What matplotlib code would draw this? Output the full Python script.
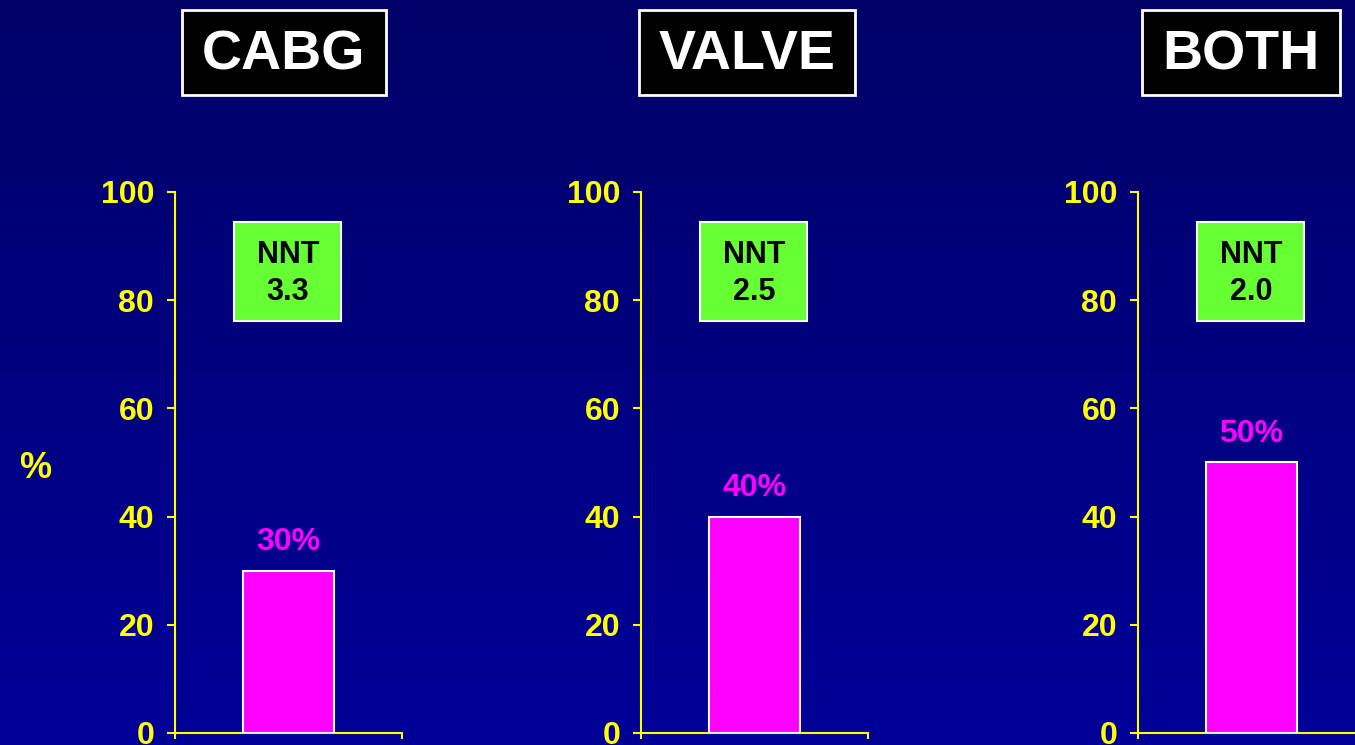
import matplotlib
matplotlib.use("Agg")
import matplotlib.pyplot as plt
import numpy as np
from matplotlib.patches import Rectangle

categories = ["CABG", "VALVE", "BOTH"]
values = [30, 40, 50]
nnt = [3.3, 2.5, 2.0]
yticks = [0, 20, 40, 60, 80, 100]

YELLOW = "#FFFF00"
MAGENTA = "#FF00FF"
GREEN = "#66FF33"

plt.rcParams["font.family"] = ["Liberation Sans", "DejaVu Sans"]
plt.rcParams["font.weight"] = "bold"

W, H = 1355, 745
fig = plt.figure(figsize=(W / 100, H / 100), dpi=100)

# background gradient
bg = fig.add_axes([0, 0, 1, 1], zorder=-10)
grad = np.linspace(0, 1, 256).reshape(-1, 1)
top = np.array([0, 0, 0x68]) / 255
bot = np.array([0, 0, 0x98]) / 255
img = top + (bot - top) * grad[:, :, None]
bg.imshow(img, aspect="auto", extent=[0, 1, 0, 1], origin="upper")
bg.axis("off")

axes_left = [175, 641, 1138]
title_x = [284, 747, 1241]
ax_w = 227 / W
ax_b = (H - 733) / H
ax_h = 541 / H

for i, cat in enumerate(categories):
    ax = fig.add_axes([axes_left[i] / W, ax_b, ax_w, ax_h])
    ax.patch.set_alpha(0)
    ax.bar([0], [values[i]], width=0.4, color=MAGENTA, edgecolor="white",
           linewidth=1.5, zorder=3)
    ax.set_xlim(-0.5, 0.5)
    ax.set_ylim(0, 100)
    ax.set_yticks(yticks)
    ax.set_xticks([-0.5, 0.5])
    ax.set_xticklabels([])
    for s in ["top", "right"]:
        ax.spines[s].set_visible(False)
    for s in ["left", "bottom"]:
        ax.spines[s].set_color(YELLOW)
        ax.spines[s].set_linewidth(1.5)
    ax.tick_params(axis="y", colors=YELLOW, length=6, width=1.5, pad=9,
                   labelsize=23)
    ax.tick_params(axis="x", colors=YELLOW, length=4, width=1.5)
    for lab in ax.get_yticklabels():
        lab.set_fontweight("bold")

    ax.text(0, values[i] + 2.5, f"{values[i]}%", ha="center", va="bottom",
            color=MAGENTA, fontsize=23, fontweight="bold")

    ax.add_patch(Rectangle((0.262, 0.762), 0.468, 0.183, transform=ax.transAxes,
                           facecolor=GREEN, edgecolor="white", linewidth=1.5,
                           zorder=4))
    ax.text(0.497, 0.850, f"NNT\n{nnt[i]:.1f}", transform=ax.transAxes,
            ha="center", va="center", fontsize=22, fontweight="bold",
            color="black", linespacing=1.3, zorder=5)

    t = fig.text(title_x[i] / W, (H - 55) / H, cat, ha="center", va="center",
                 color="white", fontsize=40, fontweight="bold", zorder=6)
    fig.canvas.draw()
    bb = t.get_window_extent(fig.canvas.get_renderer())
    x0 = bb.x0 - 20
    x1 = bb.x1 + 20
    fig.patches.append(Rectangle((x0 / W, (H - 95) / H), (x1 - x0) / W, 85 / H,
                                 transform=fig.transFigure, facecolor="black",
                                 edgecolor="white", linewidth=2, zorder=5))

fig.text(35 / W, (H - 468) / H, "%", ha="center", va="center", color=YELLOW,
         fontsize=26, fontweight="bold")

fig.savefig("out.png", dpi=100)
